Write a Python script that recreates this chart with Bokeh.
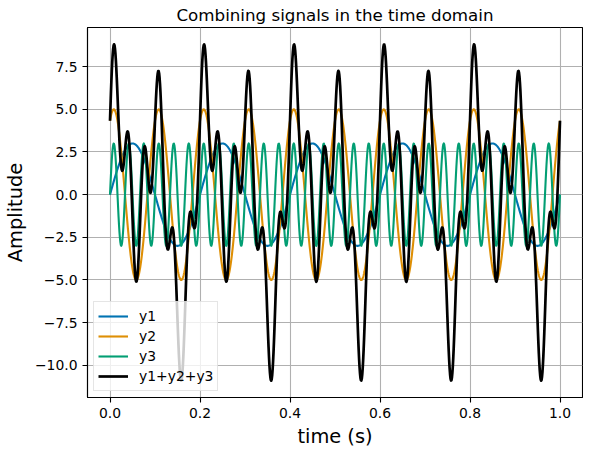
import numpy as np
from bokeh.plotting import figure
from bokeh.models import Range1d, FixedTicker
from bokeh.embed import file_html
from bokeh.resources import INLINE

# ---- data (sinusoid parameters) ----
signal_names = ["y1", "y2", "y3"]
amplitudes = [3.0, 5.0, 3.0]
frequencies_hz = [5.0, 10.0, 30.0]
phases_rad = [0.0, np.pi / 3, 0.0]
sum_name = "y1+y2+y3"
time_start, time_end, n_samples = 0.0, 1.0, 1000

x_ticks = [0.0, 0.2, 0.4, 0.6, 0.8, 1.0]
x_tick_labels = ["0.0", "0.2", "0.4", "0.6", "0.8", "1.0"]
y_ticks = [-10.0, -7.5, -5.0, -2.5, 0.0, 2.5, 5.0, 7.5]
y_tick_labels = ["\u221210.0", "\u22127.5", "\u22125.0", "\u22122.5", "0.0", "2.5", "5.0", "7.5"]

# ---- derived series ----
t = np.linspace(time_start, time_end, n_samples)
signals = [a * np.sin(2 * np.pi * f * t + ph)
           for a, f, ph in zip(amplitudes, frequencies_hz, phases_rad)]
total = np.sum(signals, axis=0)

# ---- styles ----
colors = ["#0173B2", "#DE8F05", "#029E73"]
FONT = "DejaVu Sans"

all_y = np.concatenate(signals + [total])
ylo, yhi = all_y.min(), all_y.max()
ypad = 0.05 * (yhi - ylo)
xpad = 0.05 * (time_end - time_start)

p = figure(frame_width=495, frame_height=370, output_backend="svg", toolbar_location=None,
           x_range=Range1d(time_start - xpad, time_end + xpad),
           y_range=Range1d(ylo - ypad, yhi + ypad),
           min_border_left=80, min_border_right=1, min_border_top=24,
           min_border_bottom=40)

for name, y, c in zip(signal_names, signals, colors):
    p.line(t, y, line_color=c, line_width=2.1, line_join="round", legend_label=name)
p.line(t, total, line_color="black", line_width=2.7, line_join="round", legend_label=sum_name)

# title
p.title.text = "Combining signals in the time domain"
p.title.align = "center"
p.title.text_font = FONT
p.title.text_font_size = "16.7px"
p.title.text_font_style = "normal"
p.title.text_color = "black"
p.title.standoff = 5

# axes
p.xaxis.ticker = FixedTicker(ticks=x_ticks)
p.yaxis.ticker = FixedTicker(ticks=y_ticks)
p.xaxis.major_label_overrides = {v: s for v, s in zip(x_ticks, x_tick_labels)}
p.yaxis.major_label_overrides = {v: s for v, s in zip(y_ticks, y_tick_labels)}
p.xaxis.axis_label = "time (s)"
p.yaxis.axis_label = "Amplitude"
for ax in (p.xaxis, p.yaxis):
    ax.axis_label_text_font = FONT
    ax.axis_label_text_font_size = "19.4px"
    ax.axis_label_text_font_style = "normal"
    ax.axis_label_text_color = "black"
    ax.major_label_text_font = FONT
    ax.major_label_text_font_size = "13.9px"
    ax.major_label_text_color = "black"
    ax.major_tick_out = 5
    ax.major_tick_in = 0
    ax.major_tick_line_color = "black"
    ax.major_tick_line_width = 1.1
    ax.minor_tick_line_color = None
    ax.axis_line_color = "black"
    ax.axis_line_width = 1.1
    ax.major_label_standoff = 5
p.xaxis.axis_label_standoff = 4
p.yaxis.axis_label_standoff = 5

# grid and frame
p.grid.grid_line_color = "#b0b0b0"
p.grid.grid_line_width = 1.1
p.outline_line_color = "black"
p.outline_line_width = 1.1
p.outline_line_alpha = 1.0

# legend
lg = p.legend[0]
lg.location = "bottom_left"
lg.margin = 6
lg.padding = 4
lg.spacing = 0
lg.label_height = 20
lg.glyph_height = 20
lg.glyph_width = 30
lg.label_standoff = 11
lg.label_text_font = FONT
lg.label_text_font_size = "13.9px"
lg.label_text_color = "black"
lg.border_line_color = "#cccccc"
lg.border_line_width = 1
lg.background_fill_color = "white"
lg.background_fill_alpha = 0.8

open("out.html", "w").write(file_html(p, INLINE))
